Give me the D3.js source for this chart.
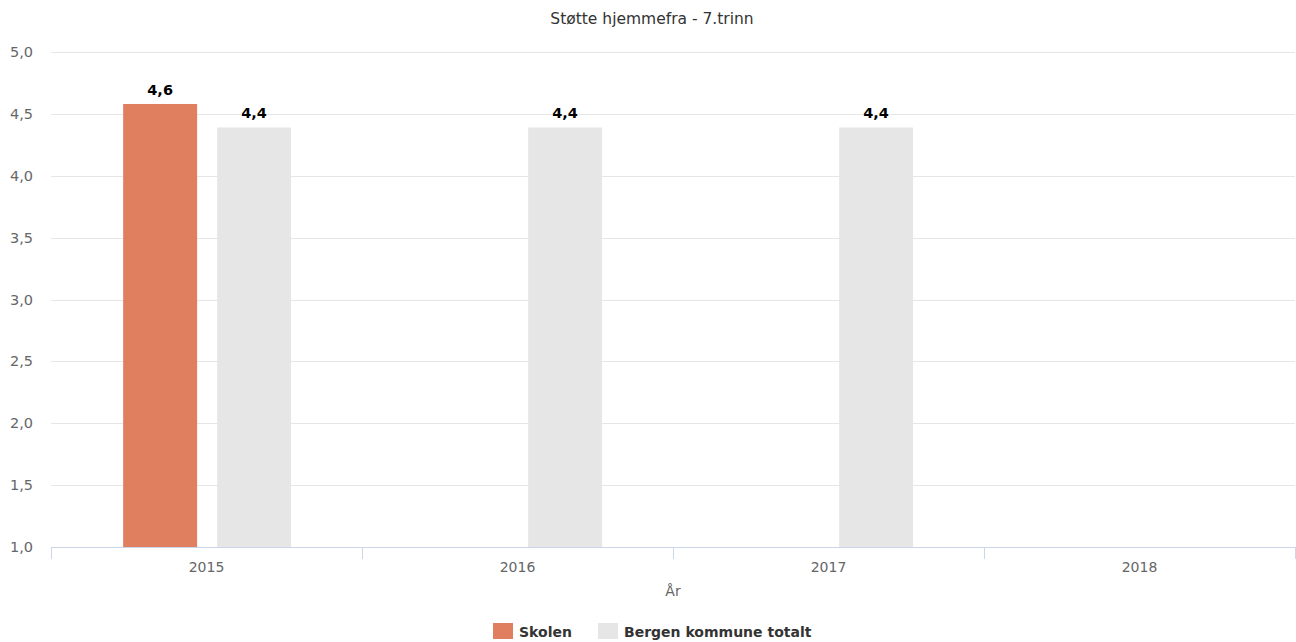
<!DOCTYPE html>
<html><head><meta charset="utf-8">
<script src="https://cdn.jsdelivr.net/npm/d3@7"></script>
<style>body{margin:0;background:#fff;}svg{display:block;font-family:"DejaVu Sans",Verdana,sans-serif;}</style>
</head><body>
<svg id="c" width="1296" height="642"></svg>
<script>
const categories = ["2015","2016","2017","2018"];
const seriesNames = ["Skolen","Bergen kommune totalt"];
const skolen = [4.58, null, null, null];
const bergen = [4.39, 4.39, 4.39, null];
const yTicks = [1.0,1.5,2.0,2.5,3.0,3.5,4.0,4.5,5.0];
const colors = ["#e07f5f","#e6e6e6"];
const title = "Støtte hjemmefra - 7.trinn";
const xTitle = "År";

const svg = d3.select("#c");
const m = {l:51, r:1295, t:52, b:547};
const x0 = d3.scaleBand().domain(categories).range([m.l, m.r]).padding(0);
const bw = x0.bandwidth();
const x1 = d3.scaleBand().domain(seriesNames).range([bw*0.232, bw*0.772]).paddingInner(0.213).paddingOuter(0);
const y = d3.scaleLinear().domain([1,5]).range([m.b, m.t]);
const fmt = v => d3.format(".1f")(v).replace(".", ",");

// title
svg.append("text").attr("x",652).attr("y",24).attr("text-anchor","middle")
  .attr("font-size",15.5).attr("fill","#333").text(title);

// grid
svg.append("g").selectAll("line").data(yTicks.filter(d=>d>1)).join("line")
  .attr("x1",m.l).attr("x2",m.r).attr("y1",d=>Math.round(y(d))+0.5).attr("y2",d=>Math.round(y(d))+0.5)
  .attr("stroke","#e6e6e6");

// y labels
svg.append("g").selectAll("text").data(yTicks).join("text")
  .attr("x",33).attr("y",d=>y(d)+5).attr("text-anchor","end")
  .attr("font-size",14.5).attr("fill","#666").text(d=>fmt(d));

// bars
const data = [skolen, bergen];
seriesNames.forEach((s,si)=>{
  const g = svg.append("g");
  const pts = categories.map((c,i)=>({c, v:data[si][i]})).filter(d=>d.v!=null);
  g.selectAll("rect").data(pts).join("rect")
    .attr("x",d=>x0(d.c)+x1(s)).attr("width",x1.bandwidth())
    .attr("y",d=>y(d.v)).attr("height",d=>y(1)-y(d.v))
    .attr("fill",colors[si]);
  g.selectAll("text").data(pts).join("text")
    .attr("x",d=>x0(d.c)+x1(s)+x1.bandwidth()/2).attr("y",d=>y(d.v)-9)
    .attr("text-anchor","middle").attr("font-size",14.5).attr("font-weight","bold")
    .attr("fill","#000").attr("stroke","#fff").attr("stroke-width",2).attr("paint-order","stroke")
    .text(d=>fmt(d.v));
});

// x axis
const ax = svg.append("g");
ax.append("line").attr("x1",m.l).attr("x2",m.r).attr("y1",m.b+0.5).attr("y2",m.b+0.5).attr("stroke","#ccd6eb");
const tickPos = categories.map(c=>x0(c)).concat([x0(categories[categories.length-1])+bw]);
ax.selectAll("line.t").data(tickPos).join("line").attr("class","t")
  .attr("x1",d=>Math.round(d)+0.5).attr("x2",d=>Math.round(d)+0.5).attr("y1",m.b).attr("y2",m.b+12).attr("stroke","#ccd6eb");
ax.selectAll("text").data(categories).join("text")
  .attr("x",d=>x0(d)+bw/2).attr("y",572).attr("text-anchor","middle")
  .attr("font-size",14).attr("fill","#666").text(d=>d);
svg.append("text").attr("x",673).attr("y",596).attr("text-anchor","middle")
  .attr("font-size",14).attr("fill","#666").text(xTitle);

// legend
const leg = svg.append("g");
const legX = [493, 598];
seriesNames.forEach((s,i)=>{
  leg.append("rect").attr("x",legX[i]).attr("y",623).attr("width",20).attr("height",16).attr("fill",colors[i]);
  leg.append("text").attr("x",legX[i]+26).attr("y",637).attr("font-size",14).attr("font-weight","bold")
    .attr("fill","#333").text(s);
});
</script>
</body></html>
